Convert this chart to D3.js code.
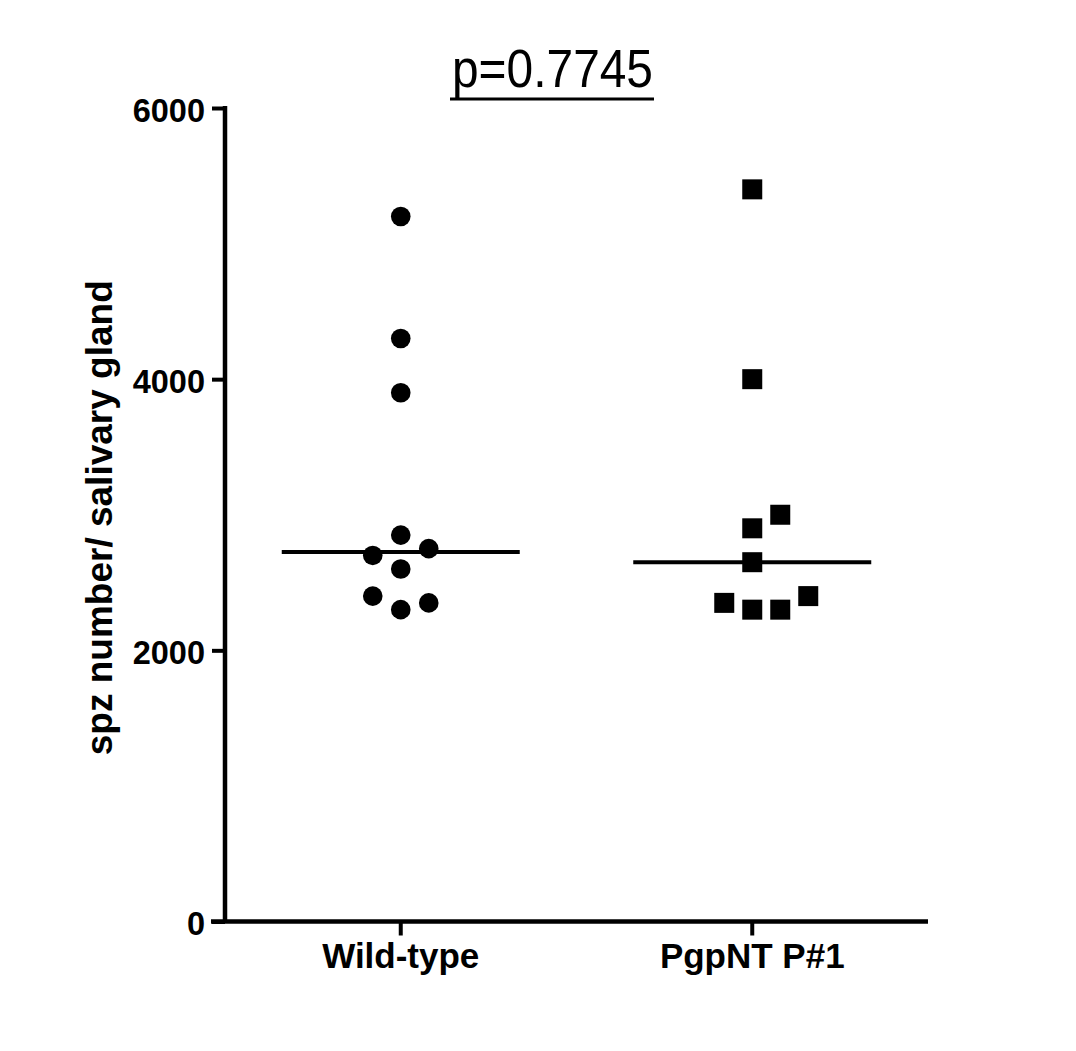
<!DOCTYPE html>
<html>
<head>
<meta charset="utf-8">
<script src="https://cdn.jsdelivr.net/npm/d3@7/dist/d3.min.js"></script>
<style>
  html, body { margin: 0; padding: 0; background: #fff; }
  svg { display: block; }
  text { font-family: "Liberation Sans", Arial, sans-serif; fill: #000; }
</style>
</head>
<body>
<svg id="chart" width="1076" height="1051"></svg>
<script>
// ---- data ----
const categories = ["Wild-type", "PgpNT P#1"];
const wildTypeValues = [5200, 4300, 3900, 2850, 2700, 2750, 2600, 2400, 2300, 2350];
const wildTypeSlots  = [0, 0, 0, 0, -1, 1, 0, -1, 0, 1];
const pgpValues = [5400, 4000, 3000, 2900, 2650, 2350, 2300, 2300, 2400];
const pgpSlots  = [0, 0, 1, 0, 0, -1, 0, 1, 2];
const yTicks = [0, 2000, 4000, 6000];
const title = "p=0.7745";
const yLabel = "spz number/ salivary gland";

const median = arr => d3.median(arr);

const svg = d3.select("#chart");
const y = d3.scaleLinear().domain([0, 6000]).range([921.5, 108]);
const x = d3.scaleBand().domain(categories).range([225, 928]);
const cx = c => x(c) + x.bandwidth() / 2;
const jitter = 28;

// axes
const yAxis = d3.axisLeft(y).tickValues(yTicks).tickFormat(d3.format("d"))
  .tickSize(13).tickPadding(7).tickSizeOuter(0);
const gy = svg.append("g").attr("transform", "translate(225,0)").call(yAxis);
gy.select(".domain").attr("stroke", "#000").attr("stroke-width", 4.5).attr("d", `M0,${y(6000)-2}V${y(0)}`);
gy.selectAll(".tick line").attr("stroke", "#000").attr("stroke-width", 4);
gy.selectAll(".tick text").style("font-size", "32.5px").attr("font-weight", "bold")
  .attr("font-family", "'Liberation Sans', Arial, sans-serif").attr("dy", "0.4em");

const xAxis = d3.axisBottom(x).tickSize(14).tickPadding(12).tickSizeOuter(0);
const gx = svg.append("g").attr("transform", `translate(0,${y(0)})`).call(xAxis);
gx.select(".domain").attr("stroke", "#000").attr("stroke-width", 4.5).attr("d", `M211,0H928`);
gx.selectAll(".tick line").attr("stroke", "#000").attr("stroke-width", 4);
gx.selectAll(".tick text").style("font-size", "35px").attr("font-weight", "bold")
  .attr("font-family", "'Liberation Sans', Arial, sans-serif")
  .attr("dy", null).attr("y", 46);

// y label
svg.append("text")
  .attr("transform", `translate(112,${(y(0)+y(6000))/2 + 3}) rotate(-90)`)
  .attr("text-anchor", "middle")
  .style("font-size", "37px").attr("font-weight", "bold")
  .text(yLabel);

// title
svg.append("text")
  .attr("x", 452).attr("y", 87)
  .style("font-size", "54px")
  .attr("textLength", 201).attr("lengthAdjust", "spacingAndGlyphs")
  .text(title);
svg.append("line").attr("x1", 450).attr("x2", 654).attr("y1", 99).attr("y2", 99)
  .attr("stroke", "#000").attr("stroke-width", 3);

// median lines
const groups = [
  { cat: categories[0], values: wildTypeValues, slots: wildTypeSlots },
  { cat: categories[1], values: pgpValues, slots: pgpSlots }
];
groups.forEach(g => {
  const m = median(g.values);
  svg.append("line")
    .attr("x1", cx(g.cat) - 119).attr("x2", cx(g.cat) + 119)
    .attr("y1", y(m)).attr("y2", y(m))
    .attr("stroke", "#000").attr("stroke-width", 4);
});

// points
const wt = groups[0];
svg.append("g").selectAll("circle")
  .data(wt.values.map((v, i) => ({ v, s: wt.slots[i] })))
  .join("circle")
  .attr("cx", d => cx(wt.cat) + d.s * jitter)
  .attr("cy", d => y(d.v))
  .attr("r", 9.8)
  .attr("fill", "#000");

const pg = groups[1];
const side = 20;
svg.append("g").selectAll("rect")
  .data(pg.values.map((v, i) => ({ v, s: pg.slots[i] })))
  .join("rect")
  .attr("x", d => cx(pg.cat) + d.s * jitter - side / 2)
  .attr("y", d => y(d.v) - side / 2)
  .attr("width", side).attr("height", side)
  .attr("fill", "#000");
</script>
</body>
</html>
